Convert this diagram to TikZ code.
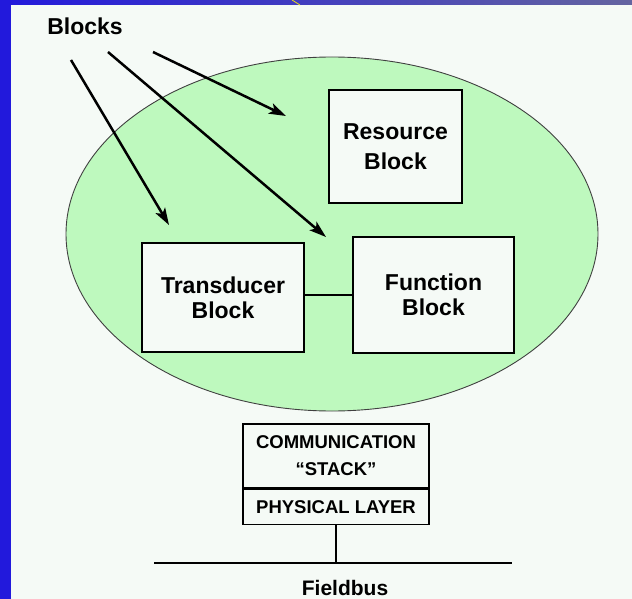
\documentclass[tikz,border=0pt]{standalone}
\usepackage{fontspec}
\setmainfont{Liberation Sans}
\usetikzlibrary{arrows.meta,shapes.geometric,positioning}

\definecolor{fondo}{HTML}{F5FAF6}
\definecolor{verde}{HTML}{BEF9BE}
\definecolor{marcoazul}{HTML}{2219DC}
\definecolor{marcogris}{HTML}{6464A0}

\tikzset{
  bloque/.style={draw, line width=1.2pt, fill=fondo, inner sep=0pt, align=center,
    font=\fontsize{23}{25}\selectfont\bfseries},
  pila/.style={draw, line width=1.2pt, fill=fondo, inner sep=0pt, align=center,
    minimum width=186pt, font=\fontsize{18.5}{27}\selectfont\bfseries},
  flecha/.style={line width=2.5pt, -{Stealth[length=17pt,width=11pt,inset=4pt]}},
}

\begin{document}
\begin{tikzpicture}[x=1pt,y=-1pt]
    % Fondo y marco
    \useasboundingbox (0,0) rectangle (632,599);
    \fill[fondo] (0,0) rectangle (632,599);
    \shade[left color=marcoazul, right color=marcogris] (0,0) rectangle (632,5);
    \fill[marcoazul] (0,0) rectangle (11,599);
    \draw[yellow!90!black, line width=0.8pt] (292,0) -- (300,5);

    % Dispositivo
    \node[ellipse, draw=black!75, line width=0.9pt, fill=verde,
      minimum width=532pt, minimum height=354pt] (disp) at (332,234) {};

    % Bloques
    \node[bloque, minimum width=133pt, minimum height=113pt,
      font=\fontsize{23}{30}\selectfont\bfseries] (recurso) at (395.5,146.5) {Resource\\Block};
    \node[bloque, minimum width=162pt, minimum height=109pt] (trans) at (223,297.5) {Transducer\\Block};
    \node[bloque, minimum width=161pt, minimum height=116pt] (func) at (433.5,295) {Function\\Block};
    \draw[line width=1.5pt] (trans.east |- func.west) -- (func.west);

    % Etiqueta y flechas
    \node[font=\fontsize{23}{25}\selectfont\bfseries] (etiq) at (85,26) {Blocks};
    \coordinate (ini1) at (71,60);
    \coordinate (ini2) at (108,52);
    \coordinate (ini3) at (153,52);
    \coordinate (fin1) at (169,225);
    \coordinate (fin2) at (326,237);
    \coordinate (fin3) at (286,116);
    \draw[flecha] (ini1) -- (fin1);
    \draw[flecha] (ini2) -- (fin2);
    \draw[flecha] (ini3) -- (fin3);

    % Pila de comunicaciones
    \node[pila, minimum height=64pt] (comm) at (336,456) {COMMUNICATION\\“STACK”};
    \node[pila, minimum height=35pt, below=0pt of comm] (fis) {PHYSICAL LAYER};

    % Bus de campo
    \coordinate (busizq) at (154,563);
    \coordinate (busder) at (512,563);
    \draw[line width=1.5pt] (busizq) -- (busder);
    \draw[line width=1.5pt] (fis.south) -- (fis.south |- busizq);
    \node[font=\fontsize{21}{23}\selectfont\bfseries] (bus) at (345,588) {Fieldbus};
\end{tikzpicture}
\end{document}
